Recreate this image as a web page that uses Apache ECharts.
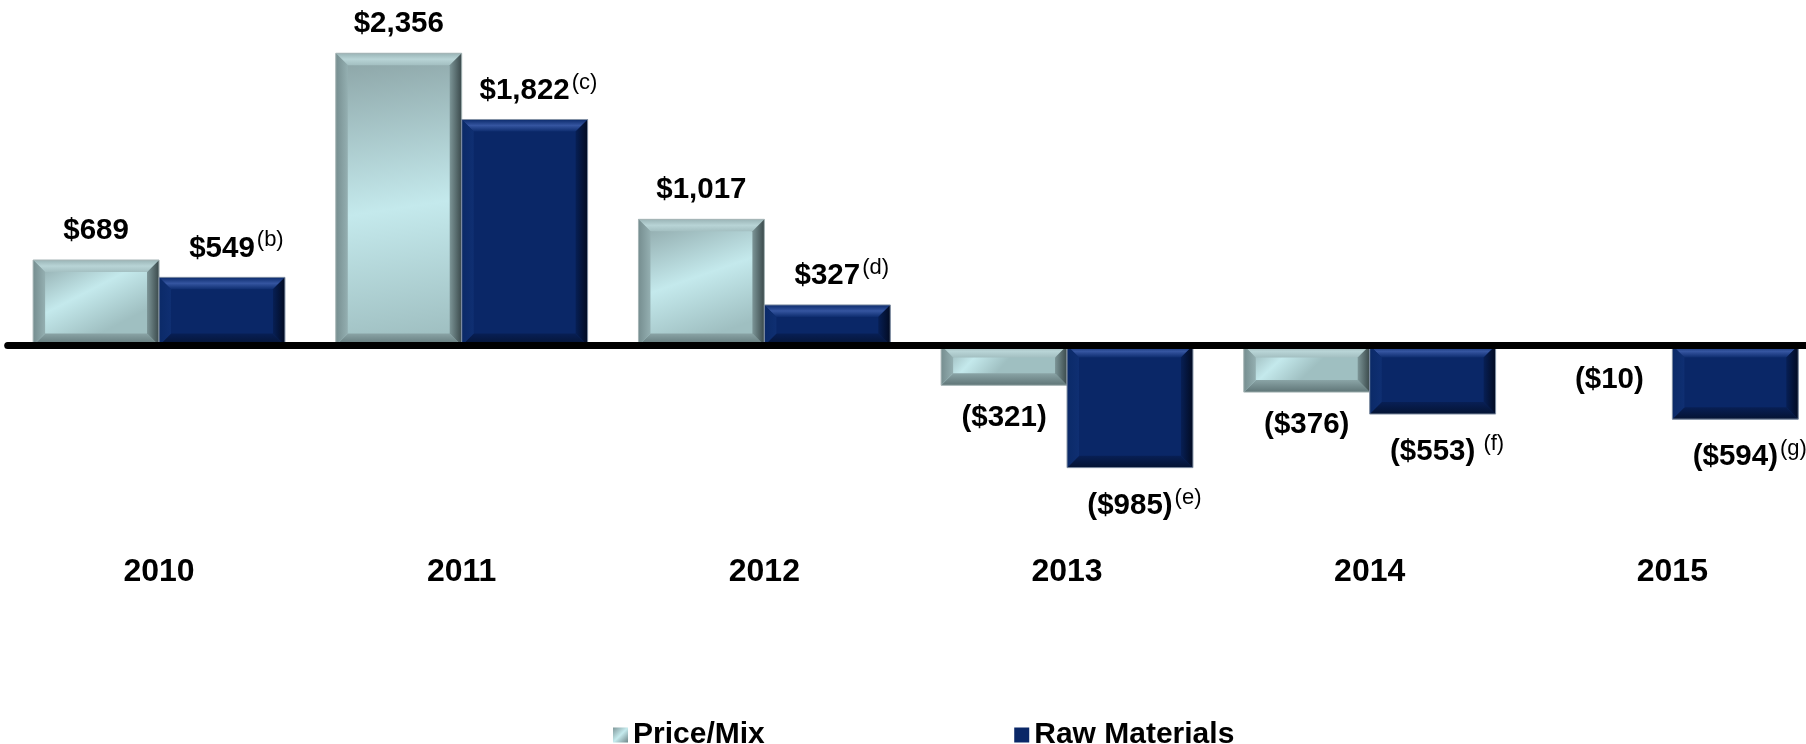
<!DOCTYPE html>
<html><head><meta charset="utf-8">
<script src="https://cdn.jsdelivr.net/npm/echarts@6/dist/echarts.min.js"></script>
<style>html,body{margin:0;padding:0;background:#fff}#c{width:1806px;height:744px}</style>
</head><body><div id="c"></div>
<script>
// ---- data ----
const years = ['2010', '2011', '2012', '2013', '2014', '2015'];
const priceMix = [689, 2356, 1017, -321, -376, -10];
const rawMaterials = [549, 1822, 327, -985, -553, -594];
const rawNotes = ['(b)', '(c)', '(d)', '(e)', ' (f)', '(g)'];
const seriesNames = ['Price/Mix', 'Raw Materials'];

// ---- styling ----
const FAM = '"Liberation Sans", Arial, Helvetica, sans-serif';
const MAIN_FONT = 'bold 29.5px ' + FAM;
const NOTE_FONT = '22px ' + FAM;
const BAR_FRAC = 0.416;
const BEVEL = 12;
const G = echarts.graphic;

const ctx = document.createElement('canvas').getContext('2d');
function textW(t, f) { ctx.font = f; return ctx.measureText(t).width; }
function fmt(v) {
  const s = '$' + Math.abs(v).toLocaleString('en-US');
  return v < 0 ? '(' + s + ')' : s;
}

const pal = [
  {
    face: () => new G.LinearGradient(0, 0, 0.35, 1, [
      { offset: 0, color: '#8aa2a4' }, { offset: 0.55, color: '#c4e9ec' }, { offset: 1, color: '#9fbfc1' }]),
    top: () => new G.LinearGradient(0, 0, 0, 1, [
      { offset: 0, color: '#9ab4b6' }, { offset: 0.5, color: '#b8d4d6' }, { offset: 1, color: '#a3bfc1' }]),
    bottom: () => new G.LinearGradient(0, 0, 0, 1, [
      { offset: 0, color: '#8aa4a6' }, { offset: 1, color: '#5f7577' }]),
    left: () => new G.LinearGradient(0, 0, 1, 0, [
      { offset: 0, color: '#768e90' }, { offset: 1, color: '#94afb1' }]),
    right: () => new G.LinearGradient(0, 0, 1, 0, [
      { offset: 0, color: '#7c9597' }, { offset: 1, color: '#3a494b' }]),
    stroke: '#a7b5b6',
    negOff: 33
  },
  {
    face: () => '#0a2767',
    top: () => new G.LinearGradient(0, 0, 0, 1, [
      { offset: 0, color: '#0c2b6c' }, { offset: 0.5, color: '#3555a0' }, { offset: 1, color: '#0e2d6f' }]),
    bottom: () => new G.LinearGradient(0, 0, 0, 1, [
      { offset: 0, color: '#081f55' }, { offset: 1, color: '#041333' }]),
    left: () => new G.LinearGradient(0, 0, 1, 0, [
      { offset: 0, color: '#0b2a68' }, { offset: 1, color: '#0f2f72' }]),
    right: () => new G.LinearGradient(0, 0, 1, 0, [
      { offset: 0, color: '#071f55' }, { offset: 1, color: '#020b22' }]),
    stroke: '#8593a6',
    negOff: 38
  }
];

function renderBar(params, api) {
  const si = params.seriesIndex;
  const idx = api.value(0), v = api.value(1);
  const base = api.coord([idx, 0]);
  const tip = api.coord([idx, v]);
  const band = api.size([1, 0])[0];
  const bw = band * BAR_FRAC;
  const x0 = si === 0 ? base[0] - bw : base[0];
  const x1 = x0 + bw;
  const cx = x0 + bw / 2;
  const yT = Math.min(base[1], tip[1]), yB = Math.max(base[1], tip[1]);
  const h = yB - yT;
  const b = Math.min(BEVEL, h / 2, bw / 2);
  const p = pal[si];
  const children = [
    { type: 'rect', shape: { x: x0, y: yT, width: bw, height: h }, style: { fill: p.face() } },
    { type: 'polygon', shape: { points: [[x0, yT], [x1, yT], [x1 - b, yT + b], [x0 + b, yT + b]] }, style: { fill: p.top() } },
    { type: 'polygon', shape: { points: [[x0, yB], [x1, yB], [x1 - b, yB - b], [x0 + b, yB - b]] }, style: { fill: p.bottom() } },
    { type: 'polygon', shape: { points: [[x0, yT], [x0 + b, yT + b], [x0 + b, yB - b], [x0, yB]] }, style: { fill: p.left() } },
    { type: 'polygon', shape: { points: [[x1, yT], [x1 - b, yT + b], [x1 - b, yB - b], [x1, yB]] }, style: { fill: p.right() } },
    { type: 'rect', shape: { x: x0, y: yT, width: bw, height: h }, style: { fill: 'none', stroke: p.stroke, lineWidth: 1 } }
  ];
  const txt = fmt(v);
  const ty = v >= 0 ? yT - 29 : yB + p.negOff;
  children.push({ type: 'text', style: { text: txt, x: cx, y: ty, font: MAIN_FONT, fill: '#000', align: 'center', verticalAlign: 'middle' } });
  if (si === 1) {
    const w = textW(txt, MAIN_FONT);
    children.push({ type: 'text', style: { text: rawNotes[idx], x: cx + w / 2 + 2, y: ty - 8, font: NOTE_FONT, fill: '#000', align: 'left', verticalAlign: 'middle' } });
  }
  return { type: 'group', children };
}

const chart = echarts.init(document.getElementById('c'), null, { renderer: 'canvas' });
chart.setOption({
  animation: false,
  backgroundColor: '#fff',
  grid: { left: 7.7, top: 35.4, width: 1816, height: 496.1, containLabel: false, outerBoundsMode: 'none' },
  xAxis: {
    type: 'category', data: years, z: 10,
    axisLine: { onZero: true, lineStyle: { color: '#000', width: 7 } },
    axisTick: { show: false },
    axisLabel: { margin: 24.5, fontSize: 32, fontWeight: 'bold', fontFamily: FAM, color: '#000' },
    splitLine: { show: false }
  },
  yAxis: { type: 'value', min: -1500, max: 2500, show: false, splitLine: { show: false } },
  legend: {
    left: 613, top: 720, padding: 0, itemGap: 249.5, itemWidth: 15, itemHeight: 15,
    textStyle: { fontSize: 30, fontWeight: 'bold', fontFamily: FAM, color: '#000', padding: [0, 0, 0, 0] },
    data: [{ name: seriesNames[0], icon: 'rect' }, { name: seriesNames[1], icon: 'rect' }]
  },
  series: [
    {
      type: 'custom', name: seriesNames[0], renderItem: renderBar, clip: false,
      itemStyle: { color: new G.LinearGradient(0, 0, 1, 1, [{ offset: 0, color: '#7f9799' }, { offset: 0.5, color: '#c6ebee' }, { offset: 1, color: '#6f8688' }]) },
      encode: { x: 0, y: 1 },
      data: priceMix.map((v, i) => [i, v])
    },
    {
      type: 'custom', name: seriesNames[1], renderItem: renderBar, clip: false,
      itemStyle: { color: '#0a2767' },
      encode: { x: 0, y: 1 },
      data: rawMaterials.map((v, i) => [i, v])
    }
  ]
});
</script>
</body></html>
